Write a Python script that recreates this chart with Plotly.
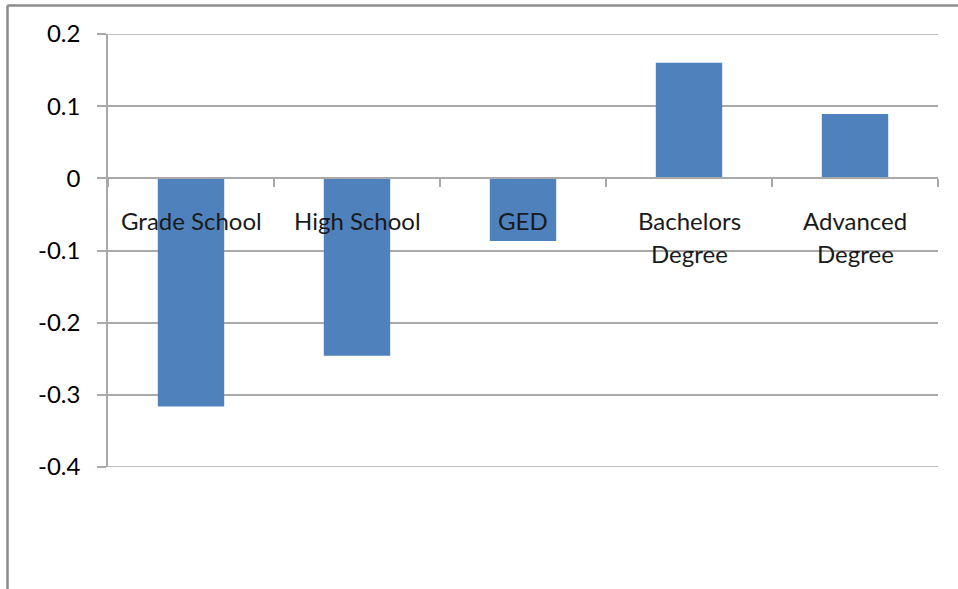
import plotly.graph_objects as go

# Education categories and their estimated effects
categories = ["Grade School", "High School", "GED", "Bachelors Degree", "Advanced Degree"]
label_lines = [["Grade School"], ["High School"], ["GED"], ["Bachelors", "Degree"], ["Advanced", "Degree"]]
effects = [-0.316, -0.246, -0.087, 0.160, 0.089]

# Value axis ticks
tick_vals = [0.2, 0.1, 0.0, -0.1, -0.2, -0.3, -0.4]
tick_text = ["0.2", "0.1", "0", "-0.1", "-0.2", "-0.3", "-0.4"]

BAR = "#4F81BD"
GRID = "#A9A9A9"
FRAME = "#8C8C8C"
FONT = "Lato"

fig = go.Figure()
fig.add_trace(go.Bar(
    x=categories,
    y=effects,
    marker=dict(color=BAR, line=dict(width=0)),
    width=0.4,
    hoverinfo="x+y",
))

# Category labels sit just below the zero line, one annotation per text line
annotations = []
for cat, lines in zip(categories, label_lines):
    for i, line in enumerate(lines):
        annotations.append(dict(
            x=cat, y=0, xref="x", yref="y",
            text=line, showarrow=False,
            yanchor="middle", xanchor="center",
            yshift=-42 - 33 * i,
            font=dict(family=FONT, size=24, color="#1a1a1a"),
        ))

# Outer chart frame (top and left edges)
shapes = [
    dict(type="line", xref="paper", yref="paper",
         x0=-0.1211, x1=1.03, y0=1.066, y1=1.066,
         line=dict(color=FRAME, width=2.5)),
    dict(type="line", xref="paper", yref="paper",
         x0=-0.1211, x1=-0.1211, y0=1.066, y1=-0.3,
         line=dict(color=FRAME, width=2.5)),
]
# Gridlines at the two ends of the value range
for v in (min(tick_vals), max(tick_vals)):
    shapes.append(dict(type="line", xref="paper", yref="y",
                       x0=0, x1=1, y0=v, y1=v,
                       line=dict(color=GRID, width=1.5), layer="below"))

fig.update_layout(
    width=958, height=589,
    margin=dict(l=108, r=20, t=34, b=122),
    paper_bgcolor="white", plot_bgcolor="white",
    showlegend=False,
    annotations=annotations,
    shapes=shapes,
    font=dict(family=FONT, color="#000000"),
)

fig.update_xaxes(
    type="category",
    anchor="free", position=2 / 3,
    showticklabels=False,
    showgrid=False, zeroline=False,
    showline=True, linecolor=GRID, linewidth=1.5,
    ticks="outside", tickson="boundaries", ticklen=8,
    tickcolor=GRID, tickwidth=1.5,
    range=[-0.5, 4.5],
)

fig.update_yaxes(
    range=[-0.4, 0.2],
    tickvals=tick_vals, ticktext=tick_text,
    tickfont=dict(family=FONT, size=24, color="#000000"),
    showgrid=True, gridcolor=GRID, gridwidth=1.5,
    zeroline=False,
    showline=True, linecolor=GRID, linewidth=1.5,
    ticks="outside", ticklen=9, tickcolor=GRID, tickwidth=1.5,
    ticklabelstandoff=12,
)

fig.write_html("out.html")
